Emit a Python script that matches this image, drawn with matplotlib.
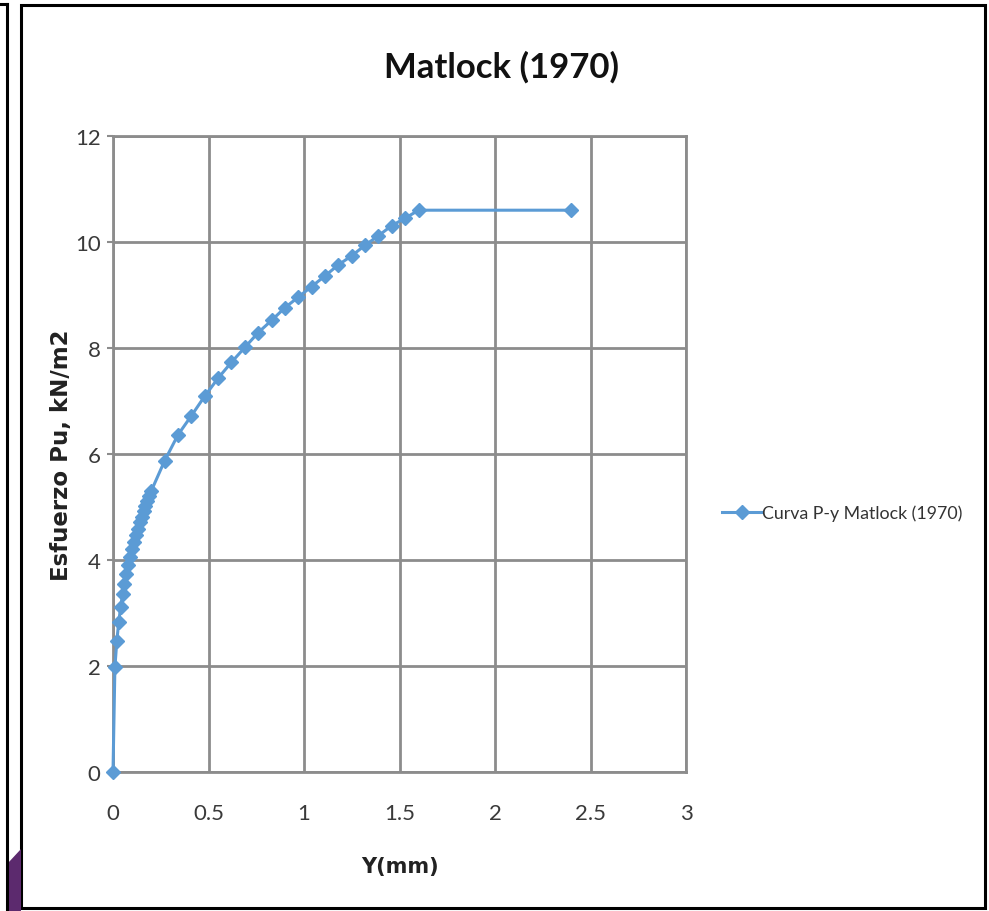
import matplotlib
matplotlib.use("Agg")
import matplotlib.pyplot as plt
from matplotlib.patches import Rectangle, Polygon
from matplotlib.lines import Line2D

plt.rcParams['font.family'] = ['Lato', 'DejaVu Sans']

# Data
y_mm = [0.0, 0.01, 0.02, 0.03, 0.04, 0.05, 0.06, 0.07, 0.08, 0.09, 0.10,
        0.11, 0.12, 0.13, 0.14, 0.15, 0.16, 0.17, 0.18, 0.19, 0.20,
        0.27, 0.34, 0.41, 0.48, 0.55, 0.62, 0.69, 0.76, 0.83, 0.90,
        0.97, 1.04, 1.11, 1.18, 1.25, 1.32, 1.39, 1.46, 1.53, 1.60, 2.40]
p_u = [0.0, 1.98, 2.47, 2.83, 3.11, 3.35, 3.55, 3.74, 3.90, 4.06, 4.20,
       4.34, 4.47, 4.59, 4.71, 4.82, 4.92, 5.02, 5.12, 5.21, 5.30,
       5.87, 6.36, 6.72, 7.09, 7.43, 7.73, 8.01, 8.29, 8.52, 8.76,
       8.96, 9.16, 9.36, 9.57, 9.74, 9.94, 10.12, 10.31, 10.45, 10.60, 10.60]
x_ticks = [0, 0.5, 1, 1.5, 2, 2.5, 3]
x_tick_labels = ['0', '0.5', '1', '1.5', '2', '2.5', '3']
y_ticks = [0, 2, 4, 6, 8, 10, 12]
series_label = 'Curva P-y Matlock (1970)'

W, H = 989, 912
fig = plt.figure(figsize=(W / 100, H / 100), dpi=100)
fig.patch.set_facecolor('white')

ax = fig.add_axes([113 / W, 1 - 773 / H, (686 - 113) / W, (773 - 137) / H])
blue = '#5B9BD5'
line, = ax.plot(y_mm, p_u, color=blue, lw=2.2, marker='D', markersize=7,
                markerfacecolor=blue, markeredgecolor=blue, label=series_label,
                clip_on=False, zorder=3)
ax.set_xlim(0, 3)
ax.set_ylim(0, 12)
ax.set_xticks(x_ticks)
ax.set_xticklabels(x_tick_labels)
ax.set_yticks(y_ticks)
ax.grid(True, color='#8c8c8c', lw=2)
ax.set_axisbelow(True)
for s in ax.spines.values():
    s.set_color('#8c8c8c')
    s.set_linewidth(2)
ax.tick_params(axis='y', length=4, width=1.5, color='#8c8c8c', labelsize=16,
               labelcolor='#3a3a3a', pad=5)
ax.tick_params(axis='x', length=0, labelsize=16, labelcolor='#3a3a3a', pad=22)

ax.set_xlabel('Y(mm)', fontsize=15, fontweight='bold', family=['DejaVu Sans'],
              labelpad=24, color='#222222')
ax.set_ylabel('Esfuerzo Pu, kN/m2', fontsize=16.5, fontweight='bold',
              family=['DejaVu Sans'], labelpad=1, color='#222222')

fig.text(501 / W, 1 - 67 / H, 'Matlock (1970)', ha='center', va='center',
         fontsize=25, fontweight='bold', color='#111111')

leg = fig.legend(handles=[line], loc='center left',
                 bbox_to_anchor=(706 / W, 1 - 514 / H), frameon=False,
                 fontsize=12.8, handlelength=2.2, handletextpad=0.05)
for t in leg.get_texts():
    t.set_color('#333333')

# Screenshot frames
fig.add_artist(Rectangle((21 / W, 3 / H), (985 - 21) / W, (906 - 3) / H,
                         transform=fig.transFigure, fill=False,
                         edgecolor='black', lw=2.2))
fig.add_artist(Line2D([7 / W, 7 / W], [0, 1 - 5 / H], transform=fig.transFigure,
                      color='black', lw=2.2))
fig.add_artist(Line2D([0, 7 / W], [1 - 5 / H, 1 - 5 / H],
                      transform=fig.transFigure, color='black', lw=2.2))
fig.add_artist(Polygon([(8 / W, 0), (21 / W, 0), (21 / W, 1 - 850 / H),
                        (8 / W, 1 - 864 / H)],
                       closed=True, transform=fig.transFigure,
                       color='#5c2a6e', lw=0))

fig.savefig('out.png', dpi=100, facecolor='white')
